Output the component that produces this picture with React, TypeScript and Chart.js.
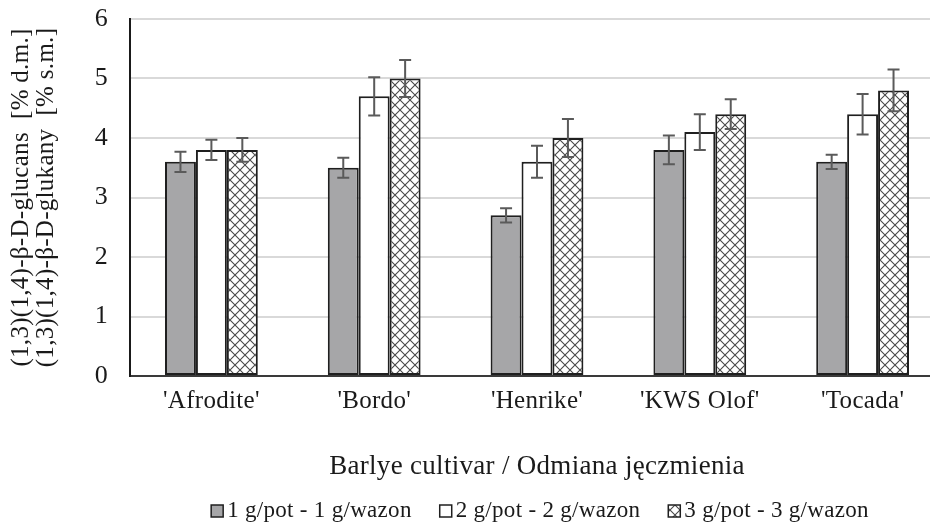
import React, { useEffect, useRef } from "react";
import { Chart, registerables } from "chart.js";

Chart.register(...registerables);

const categories = ["'Afrodite'", "'Bordo'", "'Henrike'", "'KWS Olof'", "'Tocada'"];
const seriesLabels = ["1 g/pot - 1 g/wazon", "2 g/pot - 2 g/wazon", "3 g/pot - 3 g/wazon"];
const dose1 = [3.6, 3.5, 2.7, 3.8, 3.6];
const dose2 = [3.8, 4.7, 3.6, 4.1, 4.4];
const dose3 = [3.8, 5.0, 4.0, 4.4, 4.8];
const err1 = [0.17, 0.17, 0.12, 0.24, 0.12];
const err2 = [0.17, 0.32, 0.27, 0.3, 0.34];
const err3 = [0.2, 0.31, 0.32, 0.25, 0.35];
const yTitle = ["(1,3)(1,4)-\u03b2-D-glucans  [% d.m.]", "(1,3)(1,4)-\u03b2-D-glukany  [% s.m.]"];
const xTitle = "Barlye cultivar / Odmiana j\u0119czmienia";

const FONT = "'Liberation Serif', 'Times New Roman', serif";
const TEXT = "#1a1a1a";
const SPACING = "0.3px";

function makeHatch(): CanvasPattern | string {
  const p = 10;
  const c = document.createElement("canvas");
  c.width = p;
  c.height = p;
  const g = c.getContext("2d");
  if (!g) return "#ffffff";
  g.fillStyle = "#ffffff";
  g.fillRect(0, 0, p, p);
  g.strokeStyle = "#4a4a4a";
  g.lineWidth = 1.1;
  g.beginPath();
  g.moveTo(-1, -1);
  g.lineTo(p + 1, p + 1);
  g.moveTo(p + 1, -1);
  g.lineTo(-1, p + 1);
  g.stroke();
  const pat = g.createPattern(c, "repeat");
  return pat || "#ffffff";
}

const errorBars = {
  id: "errorBars",
  afterDatasetsDraw(chart: any) {
    const errs = [err1, err2, err3];
    const ctx = chart.ctx;
    const y = chart.scales.y;
    ctx.save();
    ctx.strokeStyle = "#5a5a5a";
    ctx.lineWidth = 2;
    chart.data.datasets.forEach((ds: any, i: number) => {
      const meta = chart.getDatasetMeta(i);
      meta.data.forEach((bar: any, j: number) => {
        const v = ds.data[j];
        const e = errs[i][j];
        const top = y.getPixelForValue(v + e);
        const bot = y.getPixelForValue(v - e);
        const x = bar.x;
        const cap = 6;
        ctx.beginPath();
        ctx.moveTo(x, top);
        ctx.lineTo(x, bot);
        ctx.moveTo(x - cap, top);
        ctx.lineTo(x + cap, top);
        ctx.moveTo(x - cap, bot);
        ctx.lineTo(x + cap, bot);
        ctx.stroke();
      });
    });
    ctx.restore();
  },
};

const customLegend = {
  id: "customLegend",
  afterDraw(chart: any) {
    const ctx = chart.ctx;
    const size = 23;
    const box = 12;
    const textGap = 4;
    const itemGap = 28;
    const centerX = 540;
    const centerY = 510;
    ctx.save();
    ctx.letterSpacing = SPACING;
    ctx.font = `${size}px ${FONT}`;
    ctx.textBaseline = "middle";
    ctx.textAlign = "left";
    const widths = chart.data.datasets.map((ds: any) => box + textGap + ctx.measureText(ds.label).width);
    const total = widths.reduce((a: number, b: number) => a + b, 0) + itemGap * (widths.length - 1);
    let x = centerX - total / 2;
    chart.data.datasets.forEach((ds: any, i: number) => {
      const by = centerY - box / 2 + 1;
      ctx.fillStyle = ds.backgroundColor;
      ctx.fillRect(x, by, box, box);
      ctx.strokeStyle = "#1f1f1f";
      ctx.lineWidth = 1.5;
      ctx.strokeRect(x, by, box, box);
      ctx.fillStyle = TEXT;
      ctx.fillText(ds.label, x + box + textGap, centerY + 1);
      x += widths[i] + itemGap;
    });
    ctx.restore();
  },
};

const spacing = {
  id: "spacing",
  beforeLayout(chart: any) {
    chart.ctx.letterSpacing = SPACING;
  },
  beforeDraw(chart: any) {
    chart.ctx.letterSpacing = SPACING;
  },
};

export default function App() {
  const ref = useRef<HTMLCanvasElement | null>(null);

  useEffect(() => {
    if (!ref.current) return;
    const hatch = makeHatch();
    const chart = new Chart(ref.current, {
      type: "bar",
      data: {
        labels: categories,
        datasets: [
          {
            label: seriesLabels[0],
            data: dose1,
            backgroundColor: "#a6a6a8",
            borderColor: "#1f1f1f",
            borderWidth: 2,
            borderSkipped: false,
          },
          {
            label: seriesLabels[1],
            data: dose2,
            backgroundColor: "#ffffff",
            borderColor: "#1f1f1f",
            borderWidth: 2,
            borderSkipped: false,
          },
          {
            label: seriesLabels[2],
            data: dose3,
            backgroundColor: hatch as any,
            borderColor: "#1f1f1f",
            borderWidth: 2,
            borderSkipped: false,
          },
        ],
      },
      options: {
        animation: false,
        responsive: false,
        maintainAspectRatio: false,
        layout: { padding: { left: 0, right: 2, top: 19, bottom: 40 } },
        datasets: {
          bar: { categoryPercentage: 0.57, barPercentage: 1.0 },
        },
        plugins: {
          tooltip: { enabled: false },
          title: { display: false },
          legend: { display: false },
        },
        scales: {
          x: {
            grid: { display: false, drawTicks: false },
            border: { display: true, color: "#3a3a3a", width: 2 },
            ticks: {
              color: TEXT,
              font: { family: FONT, size: 25 },
              padding: 10,
            },
            title: {
              display: true,
              text: xTitle,
              color: TEXT,
              font: { family: FONT, size: 27 },
              padding: { top: 0, bottom: 8 },
            },
            afterFit(scale: any) {
              scale.height = 531 - 40 - 376;
              scale.paddingLeft = 0;
              scale.paddingRight = 0;
            },
          },
          y: {
            min: 0,
            max: 6,
            ticks: {
              stepSize: 1,
              color: TEXT,
              font: { family: FONT, size: 26 },
              padding: 22,
            },
            grid: { color: "#d9d9d9", lineWidth: 2, drawTicks: false },
            border: { display: true, color: "#1a1a1a", width: 2 },
            title: {
              display: true,
              text: yTitle,
              color: TEXT,
              font: { family: FONT, size: 25, lineHeight: 1.0 },
              padding: { top: 9, bottom: 0 },
            },
            afterFit(scale: any) {
              scale.width = 130;
              scale.paddingTop = 0;
              scale.paddingBottom = 0;
            },
          },
        },
      },
      plugins: [spacing, errorBars, customLegend],
    });
    return () => chart.destroy();
  }, []);

  return (
    <div
      style={{
        position: "fixed",
        left: 0,
        top: 0,
        width: 930,
        height: 531,
        overflow: "hidden",
        background: "#ffffff",
      }}
    >
      <canvas ref={ref} width={946} height={531} style={{ display: "block" }} />
    </div>
  );
}
